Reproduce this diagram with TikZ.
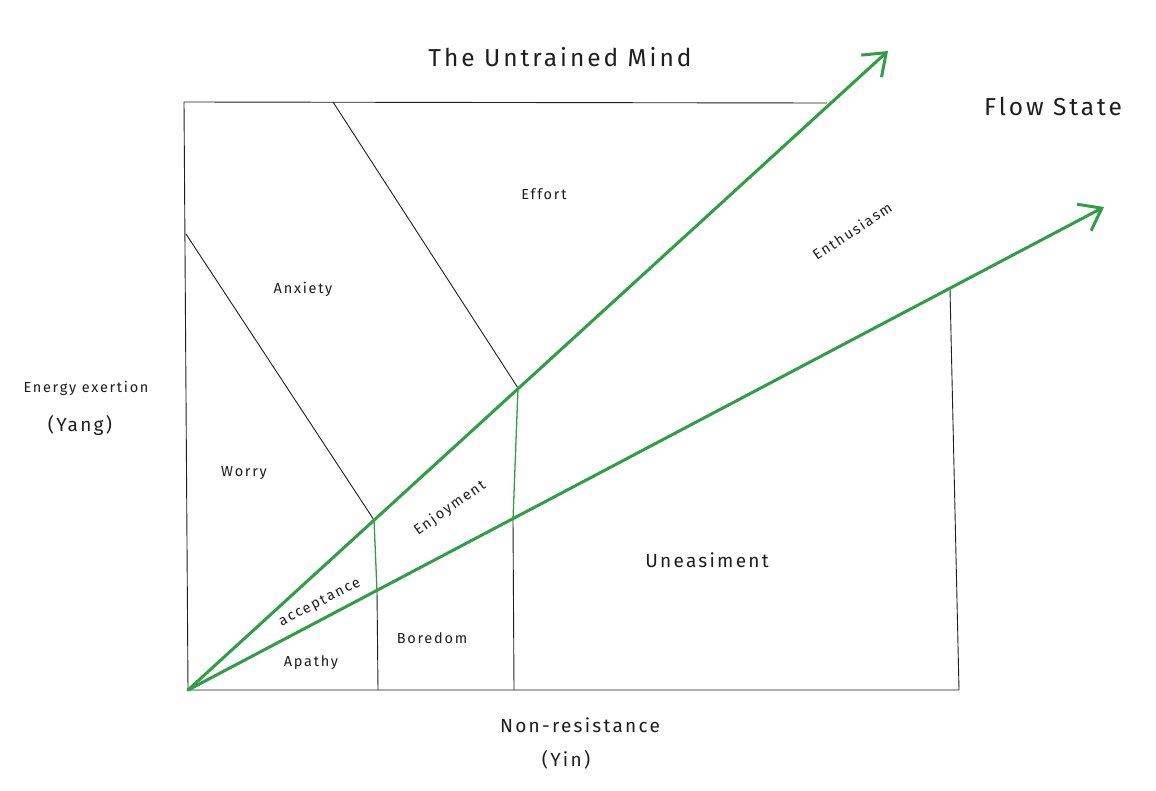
\documentclass[tikz,border=0pt]{standalone}
\usepackage{fontspec}
\setmainfont{Fira Sans}[LetterSpace=12]
\usetikzlibrary{arrows.meta}
\definecolor{exgreen}{HTML}{2F9E44}
\definecolor{ink}{HTML}{1E1E1E}
\tikzset{
  lbl/.style={text=ink, font=\fontsize{14.5}{17}\selectfont, inner sep=0pt},
  biglbl/.style={text=ink, font=\fontsize{24.5}{28}\selectfont, inner sep=0pt},
  midlbl/.style={text=ink, font=\fontsize{19}{22}\selectfont, inner sep=0pt},
  thin/.style={draw=ink, line width=0.9pt},
  gthin/.style={draw=exgreen, line width=1.3pt},
  flow/.style={draw=exgreen, line width=3pt, line cap=round,
    -{Straight Barb[length=20pt,width=30pt,line width=3pt]}}
}
\begin{document}
\begin{tikzpicture}[x=1pt,y=-1pt]
\useasboundingbox[fill=white] (0,0) rectangle (1156,790);
% coordinates
\coordinate (O) at (188,690);
\coordinate (TL) at (184,102);
\coordinate (TR) at (827,103);
\coordinate (BR) at (959,690);
\coordinate (RT) at (950,289);
\coordinate (E1) at (333,102);
\coordinate (E2) at (518,388);
\coordinate (W1) at (186,234);
\coordinate (W2) at (374,520);
\coordinate (G1) at (513,520);
\coordinate (G2) at (377,591);
\coordinate (B1) at (514,690);
\coordinate (B2) at (378,690);
\coordinate (A1) at (888,51);
\coordinate (A2) at (1104,207);
% frame
\draw[thin] (O) -- (TL) -- (TR);
\draw[thin] (O) -- (BR) -- (RT);
\draw[thin] (E1) -- (E2);
\draw[thin] (W1) -- (W2);
\draw[gthin] (E2) -- (G1);
\draw[gthin] (W2) -- (G2);
\draw[thin] (G1) -- (B1);
\draw[thin] (G2) -- (B2);
% arrows
\draw[flow] (O) -- (A1);
\draw[flow] (O) -- (A2);
% labels
\node[biglbl] (title) at (560,57) {The Untrained Mind};
\node[biglbl] (flow) at (1053,106) {Flow State};
\node[lbl] (effort) at (544,194) {Effort};
\node[lbl, rotate=33.5] (enth) at (852,231) {Enthusiasm};
\node[lbl] (anx) at (303,289) {Anxiety};
\node[lbl] (energy) at (86,388) {Energy exertion};
\node[midlbl] (yang) at (80,425) {(Yang)};
\node[lbl] (worry) at (244,473) {Worry};
\node[lbl, rotate=35] (enjoy) at (450,508) {Enjoyment};
\node[midlbl] (uneas) at (707,560) {Uneasiment};
\node[lbl, rotate=27] (accept) at (320,603) {acceptance};
\node[lbl] (bored) at (432,638) {Boredom};
\node[lbl] (apathy) at (311,663) {Apathy};
\node[midlbl] (nonres) at (580,725) {Non-resistance};
\node[midlbl] (yin) at (566,760) {(Yin)};
\end{tikzpicture}
\end{document}
